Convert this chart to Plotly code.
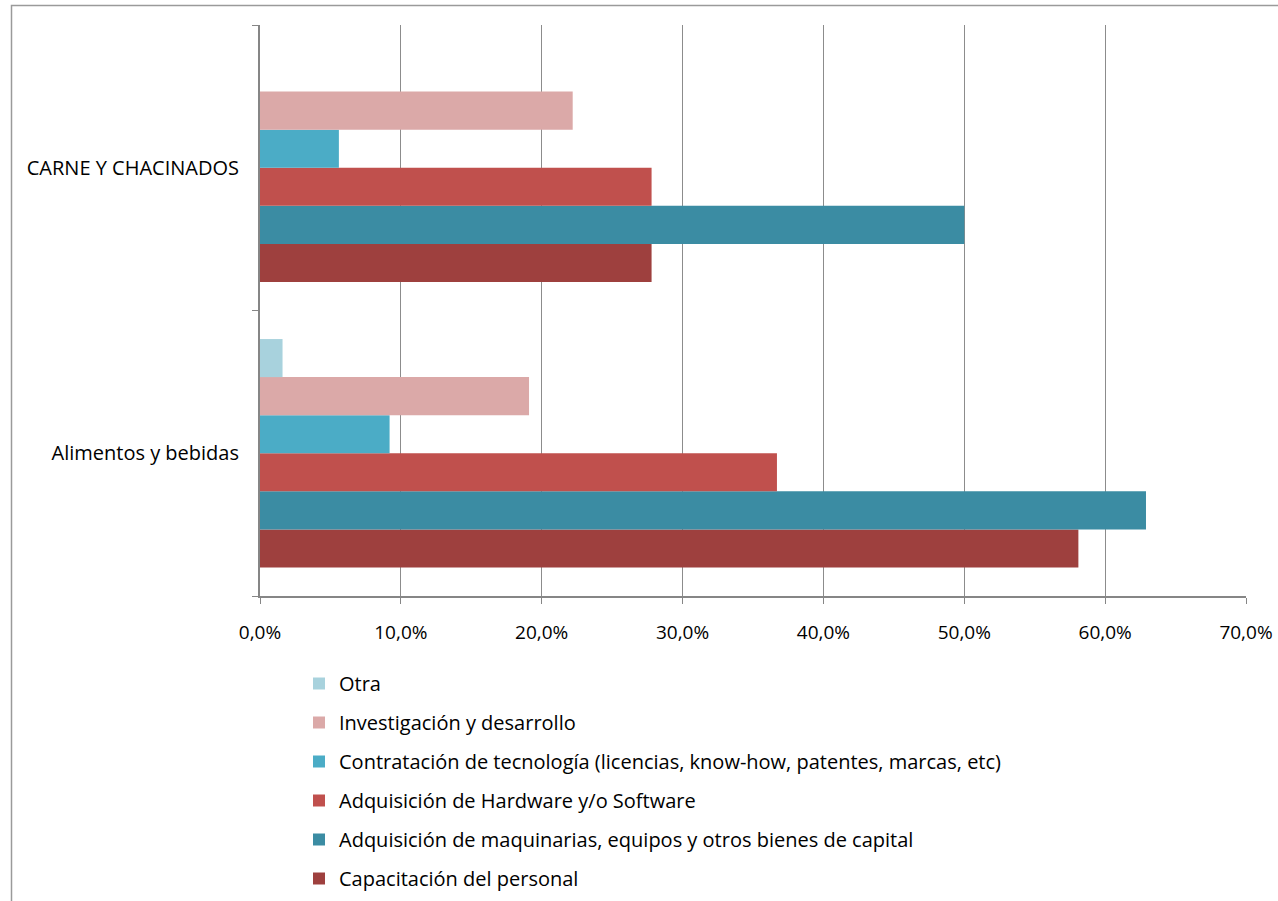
import plotly.graph_objects as go

categories = ["Alimentos y bebidas", "CARNE Y CHACINADOS"]

series_names = [
    "Capacitación del personal",
    "Adquisición de maquinarias, equipos y otros bienes de capital",
    "Adquisición de Hardware y/o Software",
    "Contratación de tecnología (licencias, know-how, patentes, marcas, etc)",
    "Investigación y desarrollo",
    "Otra",
]
capacitacion = [0.581, 0.278]
maquinarias = [0.629, 0.500]
hardware = [0.367, 0.278]
contratacion = [0.092, 0.056]
investigacion = [0.191, 0.222]
otra = [0.016, 0.0]

series_values = [capacitacion, maquinarias, hardware, contratacion, investigacion, otra]
colors = ["#9E403E", "#3B8CA3", "#C0504D", "#4BACC6", "#DBA9A8", "#A8D2DD"]

x_ticks = [0, 0.1, 0.2, 0.3, 0.4, 0.5, 0.6, 0.7]

fig = go.Figure()
n = len(series_names)
for i, (name, vals, col) in enumerate(zip(series_names, series_values, colors)):
    fig.add_trace(go.Bar(
        y=categories, x=vals, name=name, orientation="h",
        marker=dict(color=col, line=dict(width=0)),
        legendgroup=name, legendrank=n - i,
    ))

W, H = 1278, 901
L, R, T, B = 260, 32, 25, 305
pw, ph = W - L - R, H - T - B

def px_x(p):
    return (p - L) / pw

def px_y(p):
    return (H - B - p) / ph

fig.add_shape(type="rect", xref="paper", yref="paper",
              x0=px_x(11.5), x1=px_x(1300), y0=px_y(920), y1=px_y(5.5),
              line=dict(color="#9A9A9A", width=1.5), fillcolor="rgba(0,0,0,0)",
              layer="below")

FONT = "Open Sans, Noto Sans, sans-serif"

fig.update_layout(
    width=W, height=H,
    margin=dict(l=L, r=R, t=T, b=B, pad=0, autoexpand=False),
    paper_bgcolor="white", plot_bgcolor="white",
    barmode="group", bargap=0.2, bargroupgap=0,
    separators=",.",
    font=dict(family=FONT, size=19, color="#000000"),
    showlegend=True,
    legend=dict(
        traceorder="grouped",
        orientation="v",
        x=px_x(299), xanchor="left",
        y=px_y(664), yanchor="top",
        font=dict(size=20, family=FONT),
        tracegroupgap=10,
        bgcolor="rgba(0,0,0,0)",
        itemwidth=30,
    ),
    xaxis=dict(
        range=[0, 0.7], tickvals=x_ticks, tickformat=".1%",
        showgrid=True, gridcolor="#8C8C8C", gridwidth=1,
        showline=True, linecolor="#868686", linewidth=2,
        ticks="outside", ticklen=6, tickcolor="#868686", tickwidth=1,
        zeroline=False, tickfont=dict(size=19, family=FONT),
        ticklabelstandoff=12, automargin=False,
    ),
    yaxis=dict(
        type="category", categoryorder="array", categoryarray=categories,
        showline=True, linecolor="#868686", linewidth=2,
        ticks="outside", ticklen=6, tickcolor="#868686", tickwidth=1,
        tickson="boundaries", showgrid=False, zeroline=False,
        ticklabelstandoff=15, tickfont=dict(size=20, family=FONT),
        automargin=False,
    ),
)

fig.write_html("out.html", config={"displayModeBar": False},
               post_script="document.body.style.margin='0';")
